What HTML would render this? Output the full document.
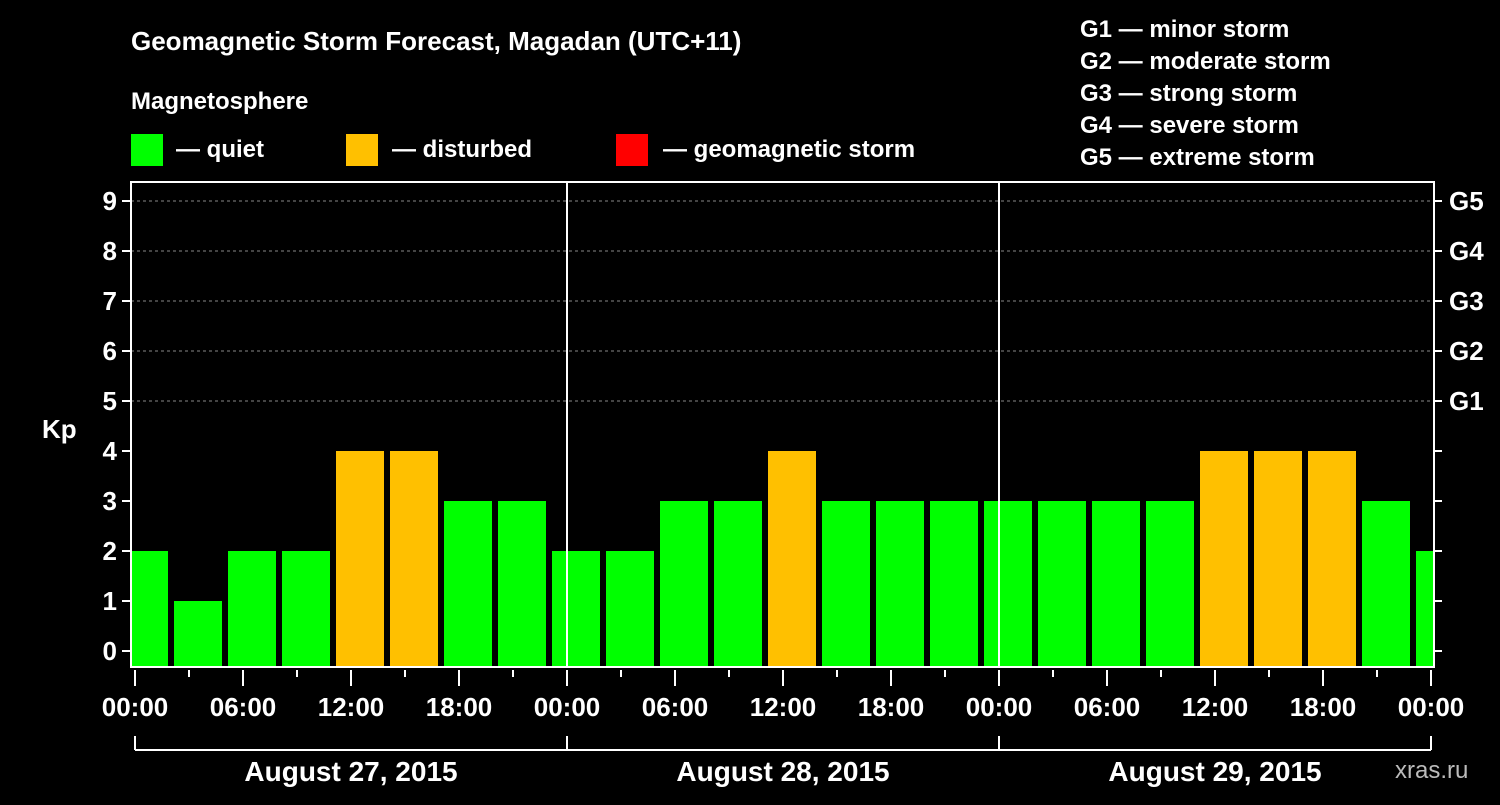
<!DOCTYPE html>
<html><head><meta charset="utf-8"><style>
body{margin:0;background:#000;width:1500px;height:800px;overflow:hidden}
svg text{font-family:"Liberation Sans",Arial,sans-serif;font-weight:bold;fill:#fff}
</style></head><body>
<svg width="1500" height="800">
<text x="131" y="50" font-size="26">Geomagnetic Storm Forecast, Magadan (UTC+11)</text>
<text x="131" y="109" font-size="24">Magnetosphere</text>
<g><rect x="131" y="134" width="32" height="32" fill="#00ff00"/><text x="176" y="157" font-size="24">— quiet</text></g>
<g><rect x="346" y="134" width="32" height="32" fill="#ffc000"/><text x="392" y="157" font-size="24">— disturbed</text></g>
<g><rect x="616" y="134" width="32" height="32" fill="#ff0000"/><text x="663" y="157" font-size="24">— geomagnetic storm</text></g>
<g font-size="24">
<text x="1080" y="37">G1 — minor storm</text><text x="1080" y="69">G2 — moderate storm</text><text x="1080" y="101">G3 — strong storm</text><text x="1080" y="133">G4 — severe storm</text><text x="1080" y="165">G5 — extreme storm</text></g>
<text x="42" y="438" font-size="26">Kp</text>
<text x="1395" y="778" font-size="24" fill="#bbb" style="fill:#bbb;font-weight:normal">xras.ru</text>
<g id="plot"></g>
</svg>
<script>
const values=[2,1,2,2,4,4,3,3,2,2,3,3,4,3,3,3,3,3,3,3,4,4,4,3,2];
const yTicks=[0,1,2,3,4,5,6,7,8,9];
const gLabels=["G1","G2","G3","G4","G5"];
const timeLabels=["00:00","06:00","12:00","18:00","00:00","06:00","12:00","18:00","00:00","06:00","12:00","18:00","00:00"];
const dayLabels=["August 27, 2015","August 28, 2015","August 29, 2015"];
const NS="http://www.w3.org/2000/svg",g=document.getElementById('plot');
const L=131,R=1434,T=182,B=667,X0=135,DAY=432;
const y=v=>651-v*50, xh=h=>X0+h*DAY/24;
function el(t,a,p){const e=document.createElementNS(NS,t);for(const k in a)e.setAttribute(k,a[k]);(p||g).appendChild(e);return e;}
const clip=el('clipPath',{id:'c'});el('rect',{x:L,y:T,width:R-L,height:B-T},clip);
yTicks.forEach(v=>{if(v>=5){const l=el('line',{x1:L,x2:R,y1:y(v),y2:y(v),stroke:'#888','stroke-dasharray':'3,3'});}
el('line',{x1:L-9,x2:L,y1:y(v),y2:y(v),stroke:'#fff','stroke-width':2});
const t=el('text',{x:L-14,y:y(v)+9,'font-size':26,'text-anchor':'end'});t.textContent=v;
el('line',{x1:R,x2:R+8,y1:y(v),y2:y(v),stroke:'#fff','stroke-width':2});});
gLabels.forEach((s,i)=>{const t=el('text',{x:R+15,y:y(5+i)+9,'font-size':26});t.textContent=s;});
const bg=el('g',{'clip-path':'url(#c)'});
values.forEach((v,i)=>{const h0=-1+i*3;const x1=xh(h0)+3,x2=xh(h0+3)-3;
const r=el('rect',{x:x1,y:y(v),width:x2-x1,height:B-y(v),fill:v>=5?'#ff0000':v>=4?'#ffc000':'#00ff00'},bg);
});
[1,2].forEach(d=>{const l=el('line',{x1:xh(24*d),x2:xh(24*d),y1:T,y2:B,stroke:'#fff','stroke-width':2});});
const f=el('rect',{x:L,y:T,width:R-L,height:B-T,fill:'none',stroke:'#fff','stroke-width':2});
for(let h=0;h<=72;h+=3){const maj=h%6===0;el('line',{x1:xh(h),x2:xh(h),y1:B+3,y2:B+(maj?19:10),stroke:'#fff','stroke-width':2});}
timeLabels.forEach((s,i)=>{const t=el('text',{x:xh(i*6),y:716,'font-size':26,'text-anchor':'middle'});t.textContent=s;});
el('line',{x1:xh(0),x2:xh(72),y1:750,y2:750,stroke:'#fff','stroke-width':2});
[0,1,2,3].forEach(d=>el('line',{x1:xh(24*d),x2:xh(24*d),y1:736,y2:750,stroke:'#fff','stroke-width':2}));
dayLabels.forEach((s,i)=>{const t=el('text',{x:xh(24*i+12),y:781,'font-size':28,'text-anchor':'middle'});t.textContent=s;});
</script>
</body></html>
